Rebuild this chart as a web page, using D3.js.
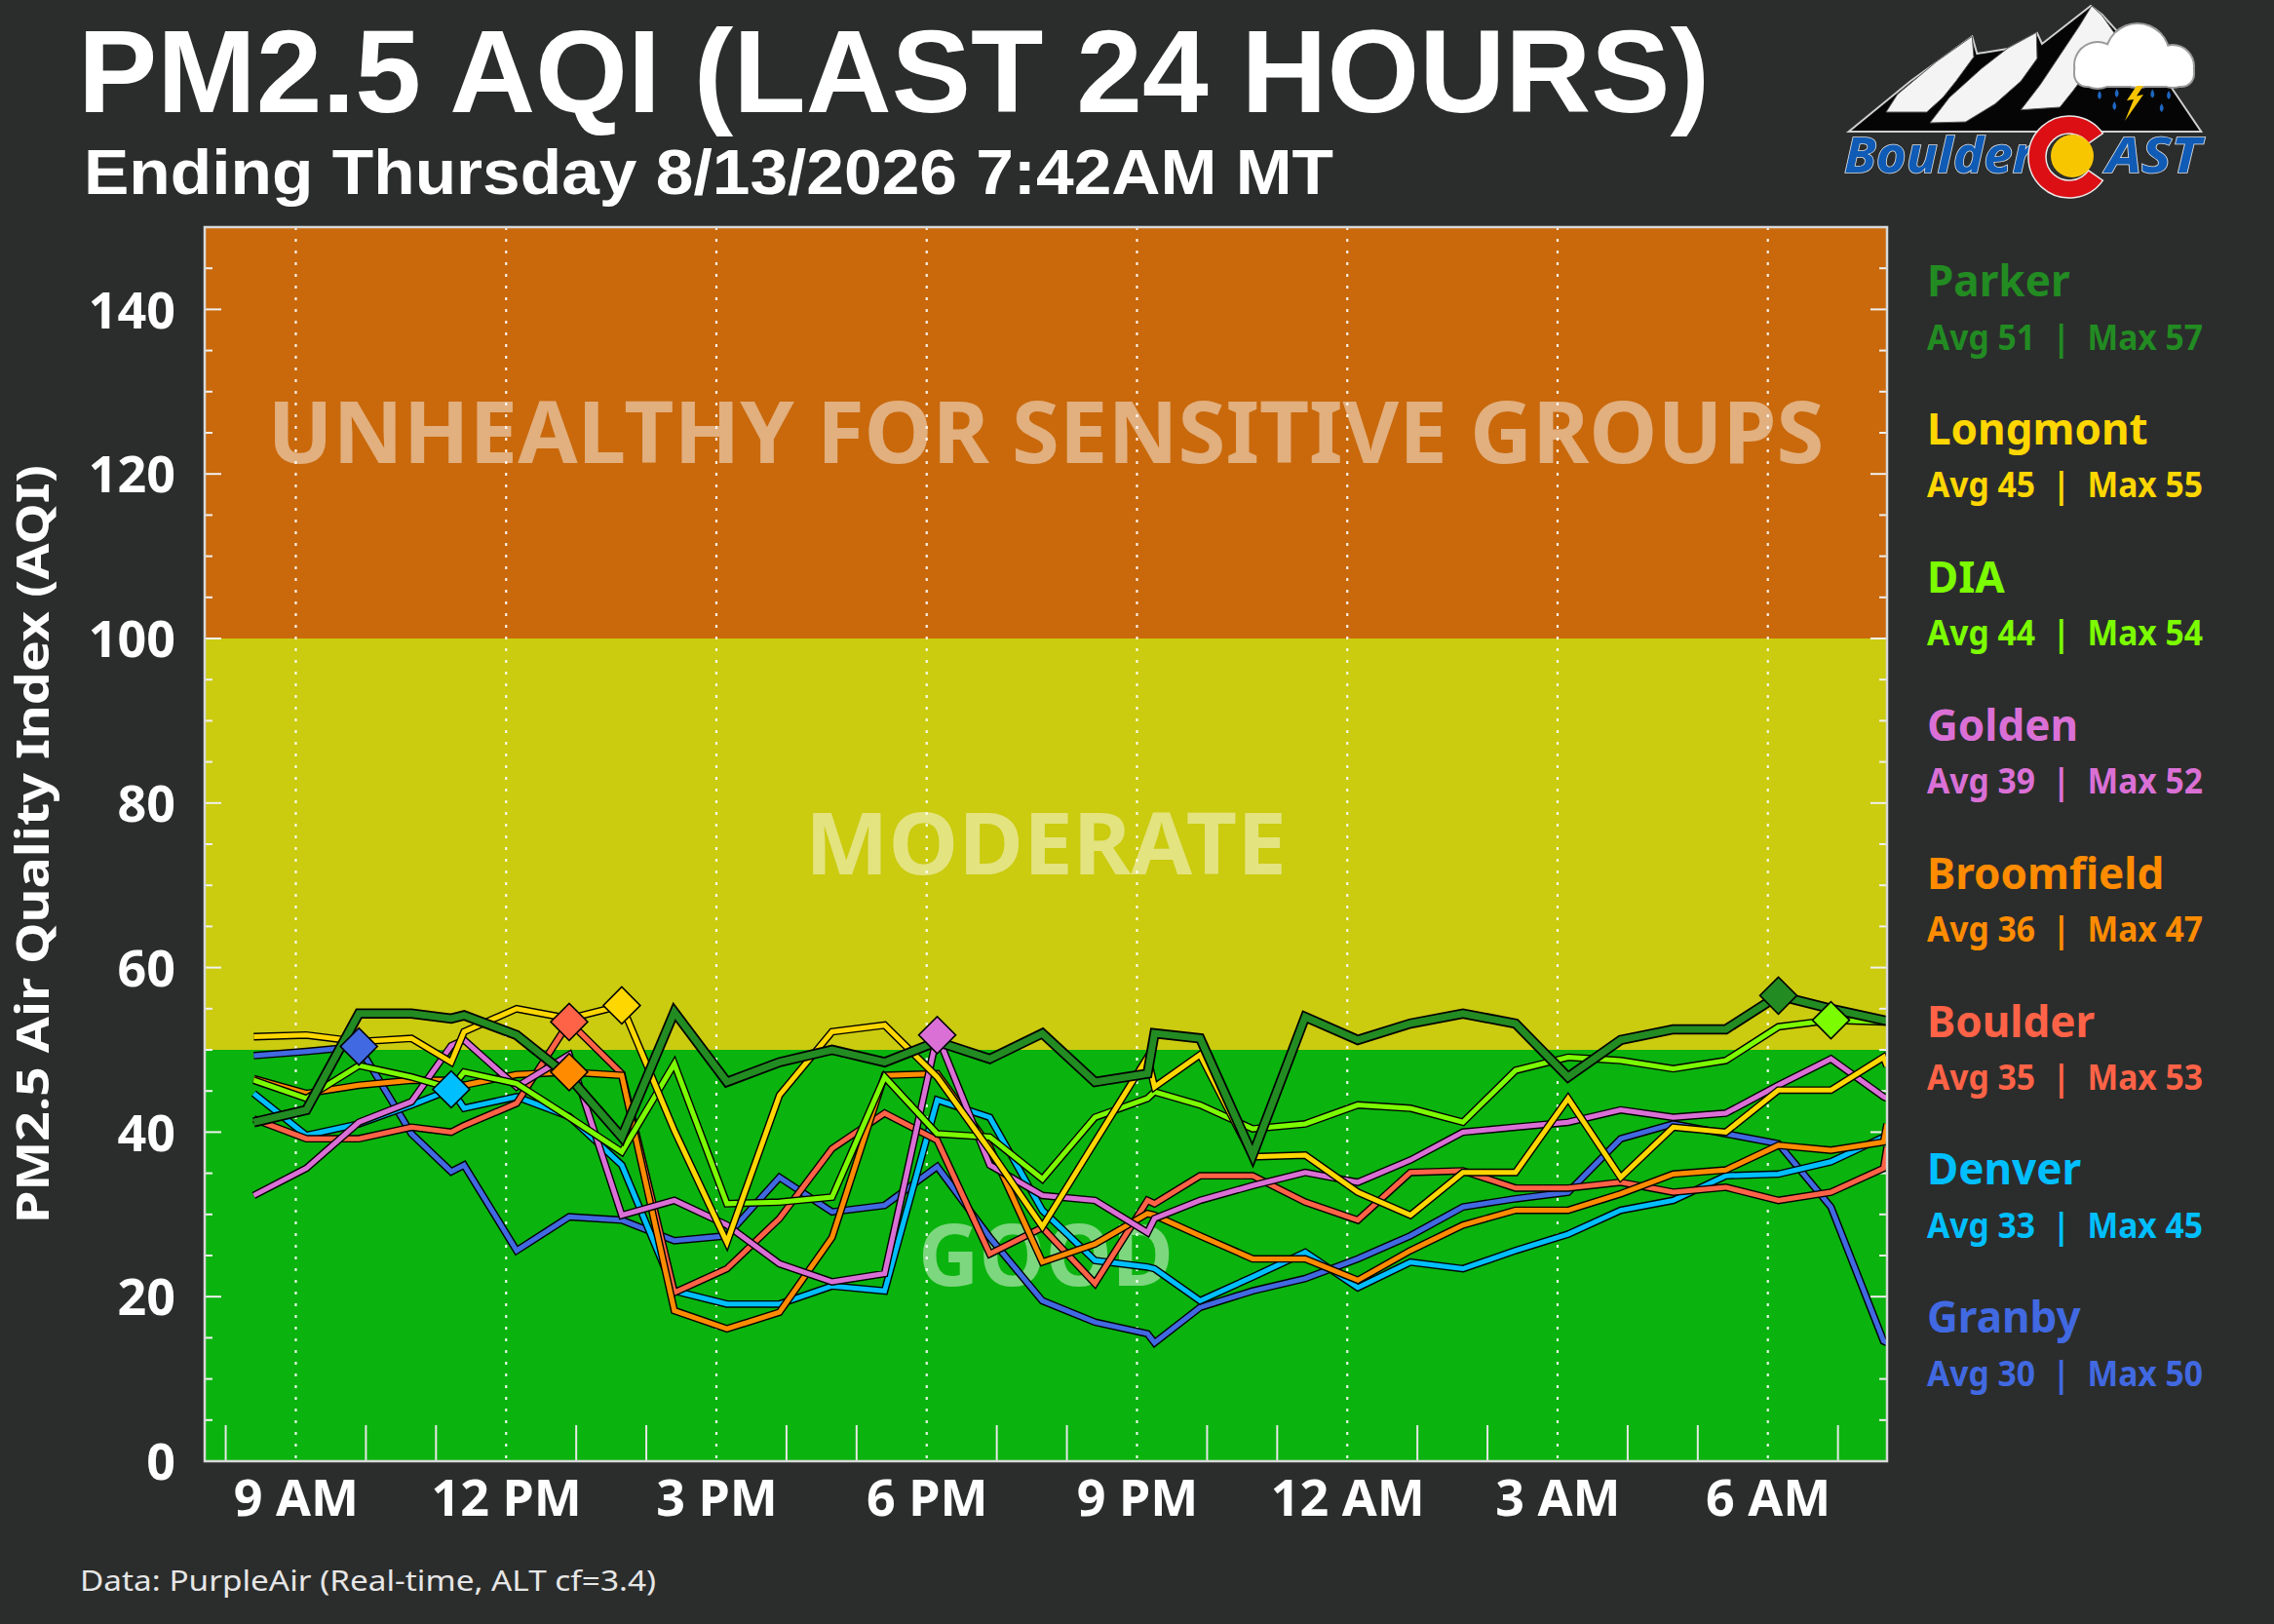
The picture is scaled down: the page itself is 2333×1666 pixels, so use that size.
<!DOCTYPE html>
<html><head><meta charset="utf-8">
<script src="https://cdn.jsdelivr.net/npm/d3@7"></script>
<style>
body{margin:0;background:#2b2d2c;}
svg{display:block;}
text{font-family:"Noto Sans","Open Sans",sans-serif;}
</style>
</head><body>
<svg id="chart" width="2333" height="1666"></svg>
<script>
// ---------------- DATA ----------------
const titleText = "PM2.5 AQI (LAST 24 HOURS)";
const subtitleText = "Ending Thursday 8/13/2026 7:42AM MT";
const sourceText = "Data: PurpleAir (Real-time, ALT cf=3.4)";
const yAxisTitle = "PM2.5 Air Quality Index (AQI)";

const timeDomain = ["2026-08-12 07:42", "2026-08-13 07:42"];
const times = [
  "2026-08-12 08:24","2026-08-12 09:09","2026-08-12 09:54","2026-08-12 10:39","2026-08-12 11:13","2026-08-12 11:24",
  "2026-08-12 12:09","2026-08-12 12:54","2026-08-12 13:39","2026-08-12 14:24","2026-08-12 15:09","2026-08-12 15:54",
  "2026-08-12 16:39","2026-08-12 17:24","2026-08-12 18:09","2026-08-12 18:54","2026-08-12 19:39","2026-08-12 20:24",
  "2026-08-12 21:09","2026-08-12 21:15","2026-08-12 21:54","2026-08-12 22:39","2026-08-12 23:24","2026-08-13 00:09",
  "2026-08-13 00:54","2026-08-13 01:39","2026-08-13 02:24","2026-08-13 03:09","2026-08-13 03:54","2026-08-13 04:39",
  "2026-08-13 05:24","2026-08-13 06:09","2026-08-13 06:54","2026-08-13 07:39","2026-08-13 07:42"
];

const sites = ["Parker","Longmont","DIA","Golden","Broomfield","Boulder","Denver","Granby"];
const siteAvg = [51,45,44,39,36,35,33,30];
const siteMax = [57,55,54,52,47,53,45,50];

const parker     = [41.2,42.7,54.4,54.4,53.8,54.2,51.8,46.7,39.4,54.6,46.1,48.5,50.0,48.5,51.0,48.9,52.0,46.1,47.1,52.0,51.4,37.2,54.0,51.2,53.2,54.4,53.2,46.7,51.2,52.5,52.5,56.6,55.0,53.6,53.5];
const longmont   = [51.6,51.8,51.0,51.4,48.5,52.2,55.0,53.8,55.4,40.2,26.6,44.5,52.2,53.0,46.7,37.8,28.5,38.8,49.1,45.5,49.4,37.0,37.2,32.7,29.9,35.1,35.1,44.1,34.5,40.6,40.0,45.1,45.1,49.1,48.0];
const dia        = [46.3,44.1,48.1,46.7,45.3,47.3,45.9,41.8,37.6,48.3,31.3,31.5,32.1,46.7,39.8,39.4,34.3,41.8,44.1,44.9,43.3,40.4,41.0,43.3,42.9,41.2,47.5,49.1,48.7,47.7,48.7,52.8,53.6,53.4,53.4];
const golden     = [32.3,35.6,41.2,43.7,50.5,51.2,45.5,49.4,29.9,31.7,28.7,24.0,21.8,22.8,51.8,36.0,32.3,31.7,27.8,29.5,31.7,33.5,35.1,33.9,36.6,40.0,40.6,41.2,42.7,41.8,42.3,45.7,48.9,44.3,44.1];
const broomfield = [46.5,44.7,45.7,46.3,46.3,45.7,47.0,47.3,46.9,18.3,16.1,18.1,27.2,46.9,47.1,38.2,24.2,26.4,30.1,29.9,27.4,24.6,24.6,22.0,25.6,28.7,30.5,30.5,32.5,34.9,35.4,38.4,37.8,38.8,41.0];
const boulder    = [41.6,39.2,39.2,40.6,40.0,40.8,43.5,53.4,47.1,20.5,23.4,29.5,38.0,42.3,39.0,25.2,28.4,21.6,31.7,31.3,34.7,34.7,31.5,29.3,35.1,35.3,33.2,33.2,33.9,32.7,33.3,31.7,32.7,35.6,38.2];
const denver     = [44.7,39.6,41.0,43.3,45.2,42.9,44.3,41.9,36.0,20.7,19.1,19.1,21.3,20.7,43.9,41.8,30.5,24.4,23.6,23.4,19.5,22.4,25.4,21.1,24.2,23.4,25.6,27.6,30.5,31.7,34.7,34.9,36.4,39.4,39.7];
const granby     = [49.3,49.8,50.4,39.8,35.2,36.0,25.6,29.7,29.3,26.8,27.4,34.5,30.3,31.1,35.8,27.2,19.5,16.9,15.5,14.4,18.7,20.7,22.2,24.6,27.4,30.9,31.9,32.7,39.2,41.0,39.8,38.6,30.9,14.6,14.4];
const seriesValues = [parker,longmont,dia,golden,broomfield,boulder,denver,granby];

const bandLimits = [0,50,100,150];
const bandNames = ["GOOD","MODERATE","UNHEALTHY FOR SENSITIVE GROUPS"];
const yMajorTicks = [0,20,40,60,80,100,120,140];

// ---------------- STYLE ----------------
const siteColors = ["#228B22","#FFD700","#7CFC00","#DA70D6","#FF8C00","#FF6347","#00BFFF","#4169E1"];
const bandColors = ["#0BB30E","#CBCB10","#C9690C"];
const bandLabelWidths = [262,494,1597];

const W=2333,H=1666;
const PL=210,PR=1936,PT=233,PB=1499;

const svg = d3.select("#chart");
svg.append("rect").attr("width",W).attr("height",H).attr("fill","#2b2d2c");

const parseT = d3.timeParse("%Y-%m-%d %H:%M");
const x = d3.scaleTime().domain(timeDomain.map(parseT)).range([PL,PR]);
const y = d3.scaleLinear().domain([0,150]).range([PB,PT]);

const clip = svg.append("clipPath").attr("id","plotclip").append("rect")
  .attr("x",PL).attr("y",PT).attr("width",PR-PL).attr("height",PB-PT);

// bands
const bands = bandNames.map((n,i)=>({name:n,lo:bandLimits[i],hi:bandLimits[i+1],color:bandColors[i],w:bandLabelWidths[i]}));
svg.append("g").selectAll("rect").data(bands).join("rect")
  .attr("x",PL).attr("width",PR-PL)
  .attr("y",d=>y(d.hi)).attr("height",d=>y(d.lo)-y(d.hi))
  .attr("fill",d=>d.color);

// band labels
svg.append("g").selectAll("text").data(bands).join("text")
  .attr("x",(PL+PR)/2).attr("y",d=>y((d.lo+d.hi)/2)+31)
  .attr("text-anchor","middle")
  .attr("font-size",88).attr("font-weight",700)
  .attr("fill","#ffffff").attr("fill-opacity",0.47)
  .attr("textLength",d=>d.w).attr("lengthAdjust","spacingAndGlyphs")
  .text(d=>d.name);

// dotted vertical gridlines every 3 hours
const majorHours = x.ticks(d3.timeHour.every(3));
svg.append("g").selectAll("line").data(majorHours).join("line")
  .attr("x1",d=>x(d)).attr("x2",d=>x(d)).attr("y1",PT).attr("y2",PB)
  .attr("stroke","#ffffff").attr("stroke-width",2.2).attr("stroke-dasharray","3,9").attr("stroke-opacity",0.9);

// hourly bottom ticks (not on 3-hour marks)
const hourTicks = x.ticks(d3.timeHour.every(1)).filter(d=>d.getHours()%3!==0);
svg.append("g").selectAll("line").data(hourTicks).join("line")
  .attr("x1",d=>x(d)).attr("x2",d=>x(d)).attr("y1",PB).attr("y2",PB-37)
  .attr("stroke","#e8e8e8").attr("stroke-width",2);

// y ticks (left & right, inward)
const minorY = d3.range(5,150,5);
const tickG = svg.append("g");
minorY.forEach(v=>{
  const len = (v%20===0)?17:8;
  tickG.append("line").attr("x1",PL).attr("x2",PL+len).attr("y1",y(v)).attr("y2",y(v))
    .attr("stroke","#f0f0f0").attr("stroke-width",2);
  tickG.append("line").attr("x1",PR).attr("x2",PR-len).attr("y1",y(v)).attr("y2",y(v))
    .attr("stroke","#f0f0f0").attr("stroke-width",2);
});

// series lines
const series = sites.map((s,i)=>({
  name:s, color:siteColors[i], avg:siteAvg[i], max:siteMax[i],
  pts: seriesValues[i].map((v,j)=>({t:parseT(times[j]),v:v}))
}));
const line = d3.line().x(d=>x(d.t)).y(d=>y(d.v));
const linesG = svg.append("g").attr("clip-path","url(#plotclip)");
series.slice().reverse().forEach(s=>{
  const thick = s.name==="Parker";
  linesG.append("path").attr("d",line(s.pts)).attr("fill","none")
    .attr("stroke","#000").attr("stroke-width",thick?10.5:7.8)
    .attr("stroke-linejoin","miter").attr("stroke-miterlimit",3);
  linesG.append("path").attr("d",line(s.pts)).attr("fill","none")
    .attr("stroke",s.color).attr("stroke-width",thick?7:5)
    .attr("stroke-linejoin","miter").attr("stroke-miterlimit",3);
});
// max diamonds
const diamond = d3.symbol().type(d3.symbolSquare).size(720);
const markG = svg.append("g");
series.slice().reverse().forEach(s=>{
  const m = s.pts[d3.maxIndex(s.pts,d=>d.v)];
  markG.append("path").attr("d",diamond())
    .attr("transform",`translate(${x(m.t)},${y(m.v)}) rotate(45)`)
    .attr("fill",s.color).attr("stroke","#000").attr("stroke-width",1.6);
});

// frame
svg.append("rect").attr("x",PL).attr("y",PT).attr("width",PR-PL).attr("height",PB-PT)
  .attr("fill","none").attr("stroke","#d8d8d8").attr("stroke-width",2.5);

// y axis labels
const yAxis = d3.axisLeft(y).tickValues(yMajorTicks).tickSize(0).tickPadding(30);
const yg = svg.append("g").attr("transform",`translate(${PL},0)`).call(yAxis);
yg.select(".domain").remove();
yg.selectAll("text").attr("fill","#fff").attr("font-size",52).attr("font-weight",700)
  .attr("font-family","'Noto Sans',sans-serif").attr("dy","0.36em");

// x axis labels
const fmt = d3.timeFormat("%-I %p");
const xAxis = d3.axisBottom(x).tickValues(majorHours).tickFormat(fmt).tickSize(0);
const xg = svg.append("g").attr("transform",`translate(0,${PB})`).call(xAxis);
xg.select(".domain").remove();
xg.selectAll("text").attr("fill","#fff").attr("font-size",52).attr("font-weight",700)
  .attr("font-family","'Noto Sans',sans-serif").attr("y",56).attr("dy",0);

// y axis title
svg.append("text").attr("transform",`translate(50,${(PT+PB)/2}) rotate(-90)`)
  .attr("text-anchor","middle").attr("font-size",47).attr("font-weight",700)
  .attr("font-family","'DejaVu Sans',sans-serif").attr("fill","#fff")
  .attr("textLength",778).attr("lengthAdjust","spacingAndGlyphs")
  .text(yAxisTitle);

// titles
svg.append("text").attr("x",80).attr("y",115).attr("font-size",120).attr("font-weight",700)
  .style("font-family","'Liberation Sans',Arial,sans-serif")
  .attr("fill","#fff").attr("textLength",1674).attr("lengthAdjust","spacingAndGlyphs").text(titleText);
svg.append("text").attr("x",86).attr("y",199).attr("font-size",64).attr("font-weight",700)
  .style("font-family","'Liberation Sans',Arial,sans-serif")
  .attr("fill","#fff").attr("textLength",1282).attr("lengthAdjust","spacingAndGlyphs").text(subtitleText);

// footer
svg.append("text").attr("x",82).attr("y",1632).attr("font-size",29)
  .attr("fill","#e6e6e6").attr("textLength",591).attr("lengthAdjust","spacingAndGlyphs").text(sourceText);

// legend
const lg = svg.append("g");
series.forEach((s,i)=>{
  const by = 304 + i*151.9;
  lg.append("text").attr("x",1977).attr("y",by).attr("font-size",44).attr("font-weight",700)
    .attr("fill",s.color).text(s.name);
  lg.append("text").attr("x",1977).attr("y",by+54.5).attr("font-size",36).attr("font-weight",700)
    .attr("fill",s.color).style("white-space","pre")
    .attr("textLength",283).attr("lengthAdjust","spacingAndGlyphs")
    .text(`Avg ${s.avg}  |  Max ${s.max}`);
});

// ---------------- LOGO ----------------
const logo = svg.append("g");
const P = pts=>"M"+pts.map(p=>p.join(",")).join("L")+"Z";
logo.append("path").attr("d",P([[1896.7,135],[1960,83.3],[2023.3,37.3],[2028.3,55],[2060,50],[2090,34],[2095,45],[2145,6],[2156.7,15],[2173.3,33.3],[2226.7,88.3],[2258.3,135]]))
  .attr("fill","#050505").attr("stroke","#cfcfcf").attr("stroke-width",2);
const flat = [
  [[1935,115],[1946.7,96.7],[1986.7,63.3],[2023.3,37.3],[2025,58.3],[2006.7,83.3],[1993.3,100],[1976.7,115]],
  [[1980,126],[2000,100],[2033.3,70],[2060,49.3],[2089.3,33.3],[2090,60],[2073.3,83.3],[2046.7,106.7],[2016.7,125]],
  [[2073.3,112.7],[2093.3,86.7],[2113.3,56.7],[2133.3,26.7],[2146,6],[2156.7,16],[2170,35],[2160,50],[2146.7,66.7],[2126.7,93.3],[2113.3,110]]
];
flat.forEach(f=>logo.append("path").attr("d",P(f)).attr("fill","#f4f4f4").attr("stroke","#555").attr("stroke-width",1));
// cloud
const cloudParts = [{cx:2152,cy:67,r:23},{cx:2193,cy:57,r:32},{cx:2229,cy:68,r:21}];
cloudParts.forEach(c=>logo.append("circle").attr("cx",c.cx).attr("cy",c.cy).attr("r",c.r+2).attr("fill","#9a9a9a"));
logo.append("rect").attr("x",2127).attr("y",60).attr("width",125).attr("height",30).attr("rx",14).attr("fill","#9a9a9a");
cloudParts.forEach(c=>logo.append("circle").attr("cx",c.cx).attr("cy",c.cy).attr("r",c.r).attr("fill","#fff"));
logo.append("rect").attr("x",2129).attr("y",62).attr("width",121).attr("height",26).attr("rx",12).attr("fill","#fff");
// rain
[[2154,99],[2171.7,97],[2208.3,97.5],[2225,99],[2169.3,110],[2217.7,112]].forEach(p=>{
  logo.append("path").attr("d",`M${p[0]},${p[1]-6} Q${p[0]+4},${p[1]} ${p[0]},${p[1]+3} Q${p[0]-4},${p[1]} ${p[0]},${p[1]-6}Z`)
    .attr("fill","#1e66c0");
});
logo.append("path").attr("d",P([[2192,88],[2182,103],[2189,102],[2180,124],[2199,97],[2192,98.5],[2199,88]])).attr("fill","#f6c500");
// text
logo.append("text").attr("x",1892).attr("y",177).attr("font-size",50).attr("font-weight",700).attr("font-style","italic")
  .attr("fill","#0f5bb5").attr("stroke","#e0e0e0").attr("stroke-width",1.5).attr("paint-order","stroke")
  .attr("textLength",195).attr("lengthAdjust","spacingAndGlyphs").text("Boulder");
logo.append("text").attr("x",2161).attr("y",177).attr("font-size",50).attr("font-weight",700).attr("font-style","italic")
  .attr("fill","#0f5bb5").attr("stroke","#e0e0e0").attr("stroke-width",1.5).attr("paint-order","stroke")
  .attr("textLength",97).attr("lengthAdjust","spacingAndGlyphs").text("AST");
// Colorado C
const arcC = d3.arc().innerRadius(24).outerRadius(42).startAngle(Math.PI*125/180).endAngle(Math.PI*415/180);
logo.append("path").attr("d",arcC()).attr("transform","translate(2123,161)")
  .attr("fill","#dc0f14").attr("stroke","#e8e8e8").attr("stroke-width",1.5);
logo.append("circle").attr("cx",2126).attr("cy",160).attr("r",22).attr("fill","#f7c600");
</script>
</body></html>
